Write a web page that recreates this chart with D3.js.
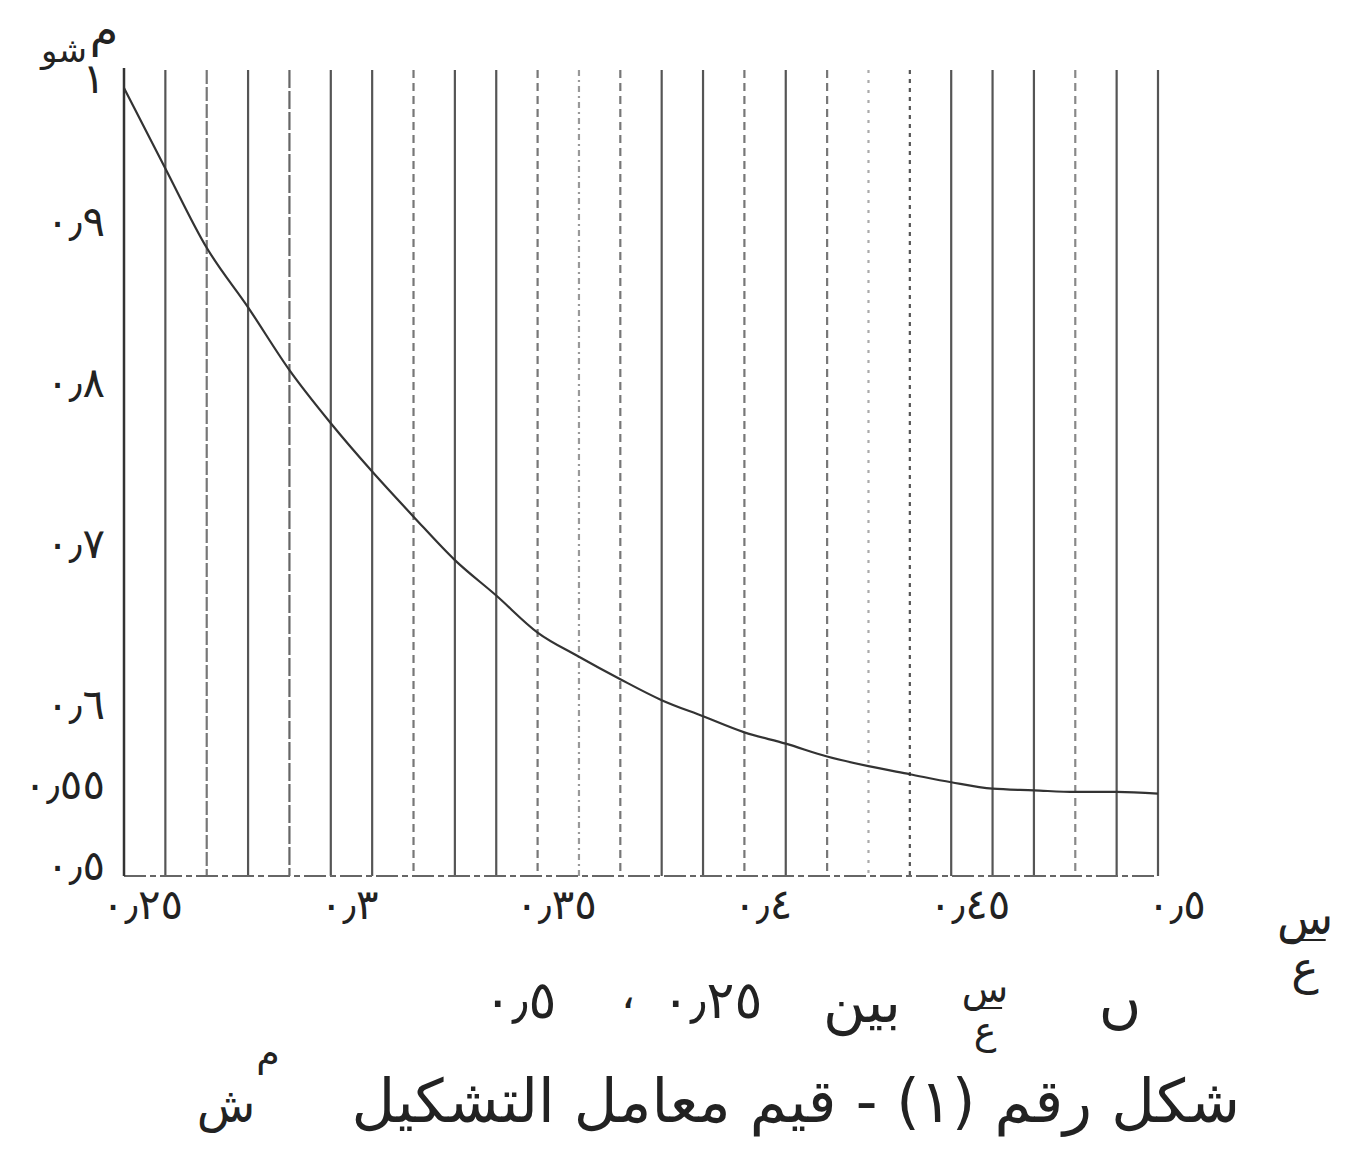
<!DOCTYPE html>
<html>
<head>
  <meta charset="utf-8">
  <title>قيم معامل التشكيل</title>
  <script src="https://d3js.org/d3.v7.min.js"></script>
  <style>
    body { margin: 0; background: #fff; }
    text { font-family: "DejaVu Sans", sans-serif; fill: #222; }
  </style>
</head>
<body>
<script>

// ****** DATA ******

  // ratio s/a, every 0.01 from 0.25 to 0.50
  var ratios = [0.25, 0.26, 0.27, 0.28, 0.29, 0.30, 0.31, 0.32, 0.33, 0.34, 0.35, 0.36, 0.37,
                0.38, 0.39, 0.40, 0.41, 0.42, 0.43, 0.44, 0.45, 0.46, 0.47, 0.48, 0.49, 0.50];
  // shape factor
  var shapeFactor = [1.00, 0.94, 0.884, 0.847, 0.808, 0.775, 0.745, 0.717, 0.690, 0.668, 0.645,
                     0.630, 0.616, 0.603, 0.593, 0.583, 0.576, 0.568, 0.562, 0.557, 0.552,
                     0.548, 0.547, 0.546, 0.546, 0.545];

  var xTicks = [0.25, 0.30, 0.35, 0.40, 0.45, 0.50],
      xTickLabels = ["٠٫٢٥", "٠٫٣", "٠٫٣٥", "٠٫٤", "٠٫٤٥", "٠٫٥"];
  var yTicks = [0.5, 0.55, 0.6, 0.7, 0.8, 0.9, 1.0],
      yTickLabels = ["٠٫٥", "٠٫٥٥", "٠٫٦", "٠٫٧", "٠٫٨", "٠٫٩", "١"];

  // line look of the vertical rulings (hand drawn, they differ)
  var gridDash = ["", "14,3", "", "18,3", "", "", "8,5", "", "", "8,5", "6,4,2,4", "8,5",
                  "", "", "8,5", "", "8,5", "3,7", "4,5", "", "", "", "8,5", "", ""];
  var gridColor = ["#555", "#777", "#555", "#666", "#555", "#555", "#777", "#555", "#555", "#777",
                   "#999", "#777", "#555", "#555", "#777", "#555", "#777", "#aaa", "#555", "#555",
                   "#555", "#555", "#888", "#555", "#555"];

// ****** SCALES ******

  var width = 1347, height = 1168;
  var x = d3.scaleLinear().domain([0.25, 0.50]).range([124, 1158]);
  // the hand drawn axis is not quite even at the top
  var y = d3.scaleLinear().domain([0.5, 0.9, 1.0]).range([866, 222, 88]);
  var gridTop = 70, axisY = 876;

  var svg = d3.select("body")
    .append("svg")
    .attr("width", width)
    .attr("height", height)
    .style("background", "#fff");

// ****** GRID AND AXES ******

  svg.append("g")
    .selectAll("line")
    .data(ratios.slice(1))
    .enter()
    .append("line")
    .attr("x1", function (d) { return x(d); })
    .attr("x2", function (d) { return x(d); })
    .attr("y1", gridTop)
    .attr("y2", axisY)
    .attr("stroke", function (d, i) { return gridColor[i]; })
    .attr("stroke-width", 2.2)
    .attr("stroke-dasharray", function (d, i) { return gridDash[i] || null; });

  // bottom base line
  svg.append("line")
    .attr("x1", x(0.25)).attr("x2", x(0.50))
    .attr("y1", axisY).attr("y2", axisY)
    .attr("stroke", "#666")
    .attr("stroke-width", 2)
    .attr("stroke-dasharray", "22,4,6,4");

  // left axis
  svg.append("line")
    .attr("x1", x(0.25)).attr("x2", x(0.25))
    .attr("y1", gridTop - 2).attr("y2", axisY)
    .attr("stroke", "#333")
    .attr("stroke-width", 2.5);

  var xAxis = svg.append("g")
    .attr("transform", "translate(18," + (axisY + 10) + ")")
    .call(d3.axisBottom(x)
      .tickValues(xTicks)
      .tickSize(0)
      .tickFormat(function (d, i) { return xTickLabels[i]; }));
  xAxis.select(".domain").remove();
  xAxis.selectAll("text")
    .style("font-family", "DejaVu Sans")
    .style("font-size", "42px")
    .attr("fill", "#222");

  var yAxis = svg.append("g")
    .attr("transform", "translate(" + (x(0.25) - 16) + ",0)")
    .call(d3.axisLeft(y)
      .tickValues(yTicks)
      .tickSize(0)
      .tickFormat(function (d, i) { return yTickLabels[i]; }));
  yAxis.select(".domain").remove();
  yAxis.selectAll("text")
    .style("font-family", "DejaVu Sans")
    .style("font-size", "42px")
    .attr("fill", "#222");
  // the "1" sits a little above the start of the curve
  yAxis.selectAll(".tick").filter(function (d) { return d === 1.0; })
    .select("text").attr("dy", "0.1em");

// ****** CURVE ******

  var line = d3.line()
    .x(function (d, i) { return x(ratios[i]); })
    .y(function (d) { return y(d); })
    .curve(d3.curveMonotoneX);

  svg.append("path")
    .datum(shapeFactor)
    .attr("d", line)
    .attr("fill", "none")
    .attr("stroke", "#333")
    .attr("stroke-width", 2.2);

// ****** LABELS ******

  // y axis title: m with subscript sh
  svg.append("text").attr("x", 104).attr("y", 46).attr("text-anchor", "middle")
    .style("font-size", "46px").text("م");
  svg.append("text").attr("x", 64).attr("y", 62).attr("text-anchor", "middle")
    .style("font-size", "34px").text("شو");

  // fraction s / a
  function fraction(cx, cy, size) {
    svg.append("text").attr("x", cx).attr("y", cy - 6).attr("text-anchor", "middle")
      .style("font-size", size + "px").text("س");
    svg.append("line")
      .attr("x1", cx - size * 0.45).attr("x2", cx + size * 0.45)
      .attr("y1", cy).attr("y2", cy)
      .attr("stroke", "#222").attr("stroke-width", 2.2);
    svg.append("text").attr("x", cx).attr("y", cy + size * 0.95).attr("text-anchor", "middle")
      .style("font-size", size + "px").text("ع");
  }
  fraction(1305, 940, 46);

  // caption line 1
  svg.append("text").attr("x", 1120).attr("y", 1022).attr("text-anchor", "middle")
    .style("font-size", "58px").text("ں");
  fraction(985, 1008, 38);
  svg.append("text").attr("x", 862).attr("y", 1022).attr("text-anchor", "middle")
    .style("font-size", "58px").text("بين");
  svg.append("text").attr("x", 712).attr("y", 1018).attr("text-anchor", "middle")
    .style("font-size", "52px").text("٠٫٢٥");
  svg.append("text").attr("x", 628).attr("y", 1008).attr("text-anchor", "middle")
    .style("font-size", "44px").text("،");
  svg.append("text").attr("x", 520).attr("y", 1018).attr("text-anchor", "middle")
    .style("font-size", "52px").text("٠٫٥");

  // caption line 2
  svg.append("text")
    .attr("x", 1240).attr("y", 1122)
    .attr("direction", "rtl")
    .attr("text-anchor", "start")
    .style("font-size", "60px")
    .text("شكل رقم (١) - قيم معامل التشكيل");
  svg.append("text").attr("x", 268).attr("y", 1066).attr("text-anchor", "middle")
    .style("font-size", "38px").text("م");
  svg.append("text").attr("x", 226).attr("y", 1122).attr("text-anchor", "middle")
    .style("font-size", "48px").text("ش");

</script>
</body>
</html>
